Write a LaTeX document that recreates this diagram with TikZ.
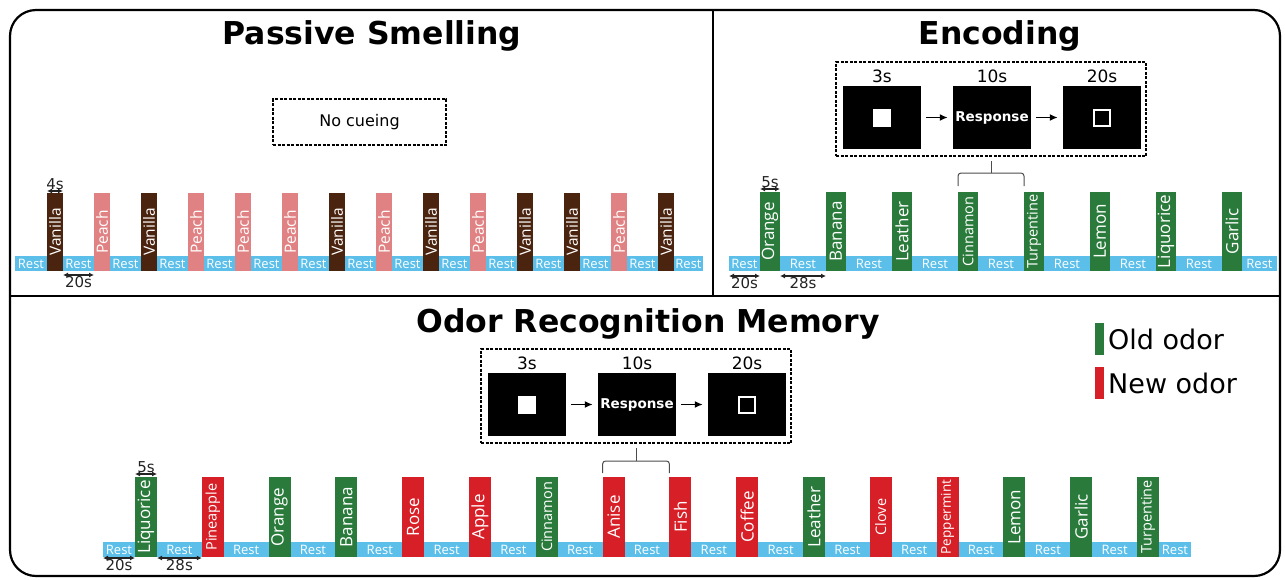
\documentclass[tikz,border=0pt]{standalone}
\usepackage{fontspec}
\setmainfont{DejaVu Sans}
\newfontfamily\barfont{Open Sans}
\usepackage{tikz}
\usetikzlibrary{arrows.meta}
\pgfdeclarelayer{edgelayer}
\pgfdeclarelayer{nodelayer}
\pgfsetlayers{edgelayer,nodelayer,main}
\definecolor{vanillacol}{RGB}{75,36,16}
\definecolor{peachcol}{RGB}{224,130,131}
\definecolor{restcol}{RGB}{91,191,234}
\definecolor{oldcol}{RGB}{42,123,59}
\definecolor{newcol}{RGB}{215,31,39}
\definecolor{dimcol}{RGB}{35,35,35}
\tikzstyle{frame}=[draw=black, line width=2.2]
\tikzstyle{title}=[font=\bfseries\fontsize{31.5}{33}\selectfont]
\tikzstyle{restband}=[fill=restcol, minimum height=15, inner sep=0]
\tikzstyle{rest}=[text=white, inner sep=0, font=\barfont\fontsize{13}{13}\selectfont]
\tikzstyle{bar}=[rotate=90, inner sep=0, text=white, font=\barfont\fontsize{17}{17}\selectfont]
\tikzstyle{pbar}=[bar, minimum width=78, minimum height=16, font=\barfont\fontsize{15.5}{16}\selectfont]
\tikzstyle{ebar}=[bar, minimum width=79, minimum height=20]
\tikzstyle{mbar}=[bar, minimum width=80, minimum height=22]
\tikzstyle{vanilla}=[pbar, fill=vanillacol]
\tikzstyle{peach}=[pbar, fill=peachcol]
\tikzstyle{oldodor}=[fill=oldcol]
\tikzstyle{newodor}=[fill=newcol]
\tikzstyle{longname}=[font=\barfont\fontsize{14.5}{15}\selectfont]
\tikzstyle{longername}=[font=\barfont\fontsize{13.5}{14}\selectfont]
\tikzstyle{dim}=[{Latex[length=5pt,width=5pt]}-{Latex[length=5pt,width=5pt]}, line width=1.2, draw=dimcol]
\tikzstyle{dimlabel}=[text=dimcol, inner sep=1, font=\fontsize{15}{15}\selectfont]
\tikzstyle{cuebox}=[draw=black, line width=1.4, dash pattern=on 3pt off 1.5pt]
\tikzstyle{screen}=[fill=black, minimum width=78, minimum height=63, inner sep=0]
\tikzstyle{timelabel}=[font=\fontsize{17}{17}\selectfont]
\tikzstyle{flow}=[-{Latex[length=8pt,width=7pt]}, line width=1.6, shorten <=5, shorten >=5]
\tikzstyle{brace}=[draw=black!70, line width=1, rounded corners=3]
\tikzstyle{legend}=[font=\fontsize{27}{27}\selectfont, anchor=west, inner sep=0]

\begin{document}
\begin{tikzpicture}[x=1pt, y=-1pt]
	\useasboundingbox (0,0) rectangle (1285,579);
	% frame and panels
	\draw [style=frame, rounded corners=26] (10,10) rectangle (1280,576);
	\draw [line width=1.6] (10,296) -- (1280,296);
	\draw [line width=1.6] (713,10) -- (713,296);
	\begin{pgfonlayer}{edgelayer}
		\node [style=restband, minimum width=688] (p0) at (359,263.5) {};
		\node [style=restband, minimum width=548] (e0) at (1003,263.5) {};
		\node [style=restband, minimum width=1088] (m0) at (647,549.5) {};
	\end{pgfonlayer}
	\begin{pgfonlayer}{nodelayer}
		\node [style=title] (t1) at (372,36) {Passive Smelling};
		\node [style=title] (t2) at (1000,36) {Encoding};
		\node [style=title] (t3) at (648,324) {Odor Recognition Memory};
		\node [style=cuebox, minimum width=173, minimum height=46, font=\fontsize{16}{16}\selectfont] (nc) at (359.5,122) {No cueing};
		% passive smelling
		\node [style=vanilla] (p1) at (55,232) {Vanilla};
		\node [style=peach] (p2) at (102,232) {Peach};
		\node [style=vanilla] (p3) at (149,232) {Vanilla};
		\node [style=peach] (p4) at (196,232) {Peach};
		\node [style=peach] (p5) at (243,232) {Peach};
		\node [style=peach] (p6) at (290,232) {Peach};
		\node [style=vanilla] (p7) at (337,232) {Vanilla};
		\node [style=peach] (p8) at (384,232) {Peach};
		\node [style=vanilla] (p9) at (431,232) {Vanilla};
		\node [style=peach] (p10) at (478,232) {Peach};
		\node [style=vanilla] (p11) at (525,232) {Vanilla};
		\node [style=vanilla] (p12) at (572,232) {Vanilla};
		\node [style=peach] (p13) at (619,232) {Peach};
		\node [style=vanilla] (p14) at (666,232) {Vanilla};
		\node [style=rest] (pr1) at (31,263.5) {Rest};
		\node [style=rest] (pr2) at (78.5,263.5) {Rest};
		\node [style=rest] (pr3) at (125.5,263.5) {Rest};
		\node [style=rest] (pr4) at (172.5,263.5) {Rest};
		\node [style=rest] (pr5) at (219.5,263.5) {Rest};
		\node [style=rest] (pr6) at (266.5,263.5) {Rest};
		\node [style=rest] (pr7) at (313.5,263.5) {Rest};
		\node [style=rest] (pr8) at (360.5,263.5) {Rest};
		\node [style=rest] (pr9) at (407.5,263.5) {Rest};
		\node [style=rest] (pr10) at (454.5,263.5) {Rest};
		\node [style=rest] (pr11) at (501.5,263.5) {Rest};
		\node [style=rest] (pr12) at (548.5,263.5) {Rest};
		\node [style=rest] (pr13) at (595.5,263.5) {Rest};
		\node [style=rest] (pr14) at (642.5,263.5) {Rest};
		\node [style=rest] (pr15) at (688.5,263.5) {Rest};
		% encoding
		\node [style=cuebox, minimum width=310, minimum height=94] (ec) at (991,109) {};
		\node [style=timelabel] (et1) at (882,76) {3s};
		\node [style=timelabel] (et2) at (992,76) {10s};
		\node [style=timelabel] (et3) at (1102,76) {20s};
		\node [style=screen] (es1) at (882,117.5) {};
		\node [style=screen, text=white, font=\bfseries\fontsize{13.5}{14}\selectfont] (es2) at (992,117.5) {Response};
		\node [style=screen] (es3) at (1102,117.5) {};
		\node [fill=white, minimum size=18, inner sep=0] (eq1) at (882,117.5) {};
		\node [draw=white, line width=2, minimum size=16, inner sep=0] (eq3) at (1102,117.5) {};
		\node [style=ebar, style=oldodor] (e1) at (770,231.5) {Orange};
		\node [style=ebar, style=oldodor] (e2) at (836,231.5) {Banana};
		\node [style=ebar, style=oldodor] (e3) at (902,231.5) {Leather};
		\node [style=ebar, style=oldodor, style=longname] (e4) at (968,231.5) {Cinnamon};
		\node [style=ebar, style=oldodor, style=longname] (e5) at (1034,231.5) {Turpentine};
		\node [style=ebar, style=oldodor] (e6) at (1100,231.5) {Lemon};
		\node [style=ebar, style=oldodor] (e7) at (1166,231.5) {Liquorice};
		\node [style=ebar, style=oldodor] (e8) at (1232,231.5) {Garlic};
		\node [style=rest] (er1) at (744.5,263.5) {Rest};
		\node [style=rest] (er2) at (803,263.5) {Rest};
		\node [style=rest] (er3) at (869,263.5) {Rest};
		\node [style=rest] (er4) at (935,263.5) {Rest};
		\node [style=rest] (er5) at (1001,263.5) {Rest};
		\node [style=rest] (er6) at (1067,263.5) {Rest};
		\node [style=rest] (er7) at (1133,263.5) {Rest};
		\node [style=rest] (er8) at (1199,263.5) {Rest};
		\node [style=rest] (er9) at (1259.5,263.5) {Rest};
		% recognition memory
		\node [style=cuebox, minimum width=310, minimum height=94] (mc) at (636,396) {};
		\node [style=timelabel] (mt1) at (527,363) {3s};
		\node [style=timelabel] (mt2) at (637,363) {10s};
		\node [style=timelabel] (mt3) at (747,363) {20s};
		\node [style=screen] (ms1) at (527,404.5) {};
		\node [style=screen, text=white, font=\bfseries\fontsize{13.5}{14}\selectfont] (ms2) at (637,404.5) {Response};
		\node [style=screen] (ms3) at (747,404.5) {};
		\node [fill=white, minimum size=18, inner sep=0] (mq1) at (527,404.5) {};
		\node [draw=white, line width=2, minimum size=16, inner sep=0] (mq3) at (747,404.5) {};
		\node [style=mbar, style=oldodor] (m1) at (146,517) {Liquorice};
		\node [style=mbar, style=newodor, style=longname] (m2) at (212.8,517) {Pineapple};
		\node [style=mbar, style=oldodor] (m3) at (279.6,517) {Orange};
		\node [style=mbar, style=oldodor] (m4) at (346.4,517) {Banana};
		\node [style=mbar, style=newodor] (m5) at (413.2,517) {Rose};
		\node [style=mbar, style=newodor] (m6) at (480,517) {Apple};
		\node [style=mbar, style=oldodor, style=longname] (m7) at (546.8,517) {Cinnamon};
		\node [style=mbar, style=newodor] (m8) at (613.6,517) {Anise};
		\node [style=mbar, style=newodor] (m9) at (680.4,517) {Fish};
		\node [style=mbar, style=newodor] (m10) at (747.2,517) {Coffee};
		\node [style=mbar, style=oldodor] (m11) at (814,517) {Leather};
		\node [style=mbar, style=newodor, style=longname] (m12) at (880.8,517) {Clove};
		\node [style=mbar, style=newodor, style=longername] (m13) at (947.6,517) {Peppermint};
		\node [style=mbar, style=oldodor] (m14) at (1014.4,517) {Lemon};
		\node [style=mbar, style=oldodor] (m15) at (1081.2,517) {Garlic};
		\node [style=mbar, style=oldodor, style=longname] (m16) at (1148,517) {Turpentine};
		\node [style=rest] (mr1) at (119,549.5) {Rest};
		\node [style=rest] (mr2) at (179.4,549.5) {Rest};
		\node [style=rest] (mr3) at (246.2,549.5) {Rest};
		\node [style=rest] (mr4) at (313,549.5) {Rest};
		\node [style=rest] (mr5) at (379.8,549.5) {Rest};
		\node [style=rest] (mr6) at (446.6,549.5) {Rest};
		\node [style=rest] (mr7) at (513.4,549.5) {Rest};
		\node [style=rest] (mr8) at (580.2,549.5) {Rest};
		\node [style=rest] (mr9) at (647,549.5) {Rest};
		\node [style=rest] (mr10) at (713.8,549.5) {Rest};
		\node [style=rest] (mr11) at (780.6,549.5) {Rest};
		\node [style=rest] (mr12) at (847.4,549.5) {Rest};
		\node [style=rest] (mr13) at (914.2,549.5) {Rest};
		\node [style=rest] (mr14) at (981,549.5) {Rest};
		\node [style=rest] (mr15) at (1047.8,549.5) {Rest};
		\node [style=rest] (mr16) at (1114.6,549.5) {Rest};
		\node [style=rest] (mr17) at (1175,549.5) {Rest};
		% legend
		\node [fill=oldcol, minimum width=9, minimum height=32, inner sep=0] (l1) at (1099.5,339) {};
		\node [style=legend] (l2) at (1108,339) {Old odor};
		\node [fill=newcol, minimum width=9, minimum height=32, inner sep=0] (l3) at (1099.5,383) {};
		\node [style=legend] (l4) at (1108,383) {New odor};
	\end{pgfonlayer}
	% timing marks
	\coordinate (a1) at (47,191);
	\coordinate (a2) at (63,191);
	\coordinate (a3) at (63,275);
	\coordinate (a4) at (94,275);
	\draw [style=dim] (a1) -- node [style=dimlabel, above] (d1) {4s} (a2);
	\draw [style=dim] (a3) -- node [style=dimlabel, below] (d2) {20s} (a4);
	\coordinate (b1) at (760,189);
	\coordinate (b2) at (780,189);
	\coordinate (b3) at (729,276);
	\coordinate (b4) at (760,276);
	\coordinate (b5) at (826,276);
	\draw [style=dim] (b1) -- node [style=dimlabel, above] (d3) {5s} (b2);
	\draw [style=dim] (b3) -- node [style=dimlabel, below] (d4) {20s} (b4);
	\draw [style=dim] (b2 |- b3) -- node [style=dimlabel, below] (d5) {28s} (b5);
	\coordinate (c1) at (135,474);
	\coordinate (c2) at (157,474);
	\coordinate (c3) at (103,558);
	\coordinate (c4) at (135,558);
	\coordinate (c5) at (201.8,558);
	\draw [style=dim] (c1) -- node [style=dimlabel, above] (d6) {5s} (c2);
	\draw [style=dim] (c3) -- node [style=dimlabel, below] (d7) {20s} (c4);
	\draw [style=dim] (c2 |- c3) -- node [style=dimlabel, below] (d8) {28s} (c5);
	% screen flow
	\draw [style=flow] (es1) to (es2);
	\draw [style=flow] (es2) to (es3);
	\draw [style=flow] (ms1) to (ms2);
	\draw [style=flow] (ms2) to (ms3);
	% braces
	\coordinate (k1) at (958,186);
	\coordinate (k2) at (1024,186);
	\coordinate (k3) at (991,161);
	\draw [style=brace] (k1) -- (958,173) -- (1024,173) -- (k2);
	\draw [style=brace] (k3) -- (991,173);
	\coordinate (k4) at (602.6,473);
	\coordinate (k5) at (669.4,473);
	\coordinate (k6) at (636,448);
	\draw [style=brace] (k4) -- (602.6,461) -- (669.4,461) -- (k5);
	\draw [style=brace] (k6) -- (636,461);
\end{tikzpicture}
\end{document}
